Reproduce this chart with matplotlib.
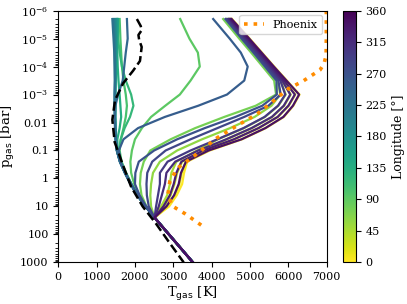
import numpy as np
import matplotlib
matplotlib.use('Agg')
import matplotlib.pyplot as plt
from matplotlib import colors

plt.rcParams['font.family'] = 'DejaVu Serif'

# pressure grid (log10 bar) shared by all model profiles
log_p = [-5.7, -5.0, -4.5, -4.0, -3.5, -3.0, -2.6, -2.2, -1.8, -1.4, -1.0,
         -0.6, -0.2, 0.2, 0.6, 1.0, 1.4, 1.8, 2.2, 2.6, 3.0]

# deep adiabat, identical for every longitude (log p = 1.4 ... 3.0)
deep = [2510, 2760, 3010, 3260, 3510]

longitudes = [0, 15, 30, 45, 60, 75, 90, 105, 120, 135, 150, 165, 180, 195,
              210, 225, 240, 255, 270, 285, 300, 315, 330, 345]

t_000 = [4530, 4990, 5310, 5630, 5960, 6290, 6130, 5880, 5410, 4790, 3950, 3360, 3280, 3230, 3090, 2890] + deep
t_015 = [4500, 4950, 5270, 5580, 5900, 6180, 6010, 5730, 5230, 4590, 3900, 3320, 3220, 3160, 3040, 2840] + deep
t_030 = [4470, 4910, 5230, 5540, 5850, 6060, 5890, 5580, 5050, 4390, 3800, 3230, 3100, 3030, 2930, 2760] + deep
t_045 = [4440, 4870, 5180, 5490, 5800, 5930, 5740, 5390, 4840, 4160, 3620, 3080, 2950, 2910, 2840, 2680] + deep
t_060 = [4380, 4800, 5110, 5410, 5720, 5790, 5560, 5120, 4480, 3750, 3100, 2650, 2470, 2420, 2400, 2420] + deep
t_075 = [4300, 4720, 5030, 5330, 5630, 5680, 5150, 4330, 3570, 2930, 2400, 2230, 2150, 2130, 2170, 2300] + deep
t_090 = [3180, 3420, 3640, 3690, 3450, 3170, 2790, 2420, 2180, 2000, 1920, 1880, 1900, 1980, 2110, 2290] + deep
t_105 = [1600, 1620, 1640, 1660, 1700, 1760, 1790, 1760, 1700, 1630, 1600, 1650, 1770, 1910, 2075, 2285] + deep
t_120 = [1550, 1560, 1600, 1660, 1760, 1900, 1960, 1870, 1730, 1630, 1580, 1640, 1760, 1905, 2072, 2282] + deep
t_135 = [1530, 1530, 1540, 1550, 1570, 1600, 1620, 1640, 1600, 1540, 1545, 1625, 1752, 1902, 2070, 2280] + deep
t_150 = [1560, 1540, 1520, 1510, 1500, 1490, 1490, 1490, 1495, 1510, 1540, 1620, 1750, 1900, 2070, 2280] + deep
t_165 = [1530, 1520, 1510, 1500, 1490, 1485, 1485, 1485, 1490, 1505, 1535, 1615, 1745, 1895, 2065, 2278] + deep
t_180 = [1500, 1500, 1495, 1490, 1485, 1480, 1480, 1480, 1485, 1500, 1530, 1610, 1740, 1890, 2062, 2276] + deep
t_195 = [1470, 1480, 1480, 1480, 1480, 1475, 1475, 1478, 1483, 1498, 1528, 1608, 1738, 1888, 2060, 2275] + deep
t_210 = [1440, 1460, 1470, 1475, 1478, 1472, 1472, 1476, 1482, 1497, 1527, 1607, 1737, 1887, 2060, 2275] + deep
t_225 = [1410, 1440, 1460, 1470, 1476, 1470, 1470, 1475, 1480, 1495, 1525, 1605, 1735, 1885, 2058, 2274] + deep
t_240 = [1790, 1810, 1760, 1720, 1680, 1560, 1490, 1475, 1482, 1500, 1530, 1610, 1740, 1890, 2062, 2276] + deep
t_255 = [4040, 4470, 4760, 4940, 4850, 4400, 3650, 2780, 2080, 1700, 1580, 1625, 1750, 1900, 2068, 2280] + deep
t_270 = [4360, 4780, 5090, 5390, 5690, 5700, 5320, 4620, 3820, 3100, 2500, 2100, 2010, 2000, 2120, 2290] + deep
t_285 = [4400, 4820, 5130, 5440, 5740, 5800, 5480, 4850, 4150, 3450, 2800, 2450, 2320, 2300, 2310, 2360] + deep
t_300 = [4430, 4860, 5170, 5480, 5790, 5920, 5730, 5380, 4830, 4150, 3450, 2850, 2650, 2650, 2600, 2550] + deep
t_315 = [4460, 4900, 5220, 5530, 5840, 6050, 5880, 5570, 5040, 4380, 3650, 3050, 2820, 2780, 2700, 2620] + deep
t_330 = [4490, 4940, 5260, 5570, 5890, 6170, 6000, 5720, 5220, 4580, 3780, 3210, 3080, 3010, 2910, 2740] + deep
t_345 = [4520, 4980, 5300, 5620, 5950, 6280, 6120, 5870, 5400, 4780, 3920, 3330, 3200, 3140, 3020, 2820] + deep

profiles = [t_000, t_015, t_030, t_045, t_060, t_075, t_090, t_105, t_120,
            t_135, t_150, t_165, t_180, t_195, t_210, t_225, t_240, t_255,
            t_270, t_285, t_300, t_315, t_330, t_345]

# black dashed reference profile
dash_logp = [-5.7, -5.45, -5.3, -5.13, -4.95, -4.7, -4.2, -3.85, -3.4, -2.8,
             -2.1, -1.3, -0.5, 0.3, 1.0, 1.6, 2.3, 3.0]
dash_t = [2050, 2150, 2175, 2090, 2110, 2175, 2130, 1950, 1690, 1480,
          1410, 1470, 1680, 1900, 2200, 2540, 2900, 3270]

# Phoenix profile
phx_logp = [-6.0, -5.0, -4.4, -4.1, -3.88, -3.48, -3.2, -2.76, -2.3, -1.95,
            -1.45, -0.88, -0.38, 0.08, 0.55, 0.98, 1.26, 1.69]
phx_t = [6990, 6990, 6985, 6930, 6826, 6382, 5990, 5600, 5183, 4740,
         4140, 3618, 3122, 2913, 2860, 2966, 3305, 3749]

fig = plt.figure(figsize=(4.07, 3.04), dpi=100)
ax = fig.add_axes([0.1432, 0.137, 0.6595, 0.828])
cax = fig.add_axes([0.8435, 0.137, 0.0305, 0.828])

cmap = plt.get_cmap('viridis_r')
norm = colors.Normalize(vmin=0, vmax=360)
pres = 10 ** np.array(log_p)

for lon, T in zip(longitudes, profiles):
    ax.plot(T, pres, color=cmap(norm(lon)), lw=1.6)

ax.plot(dash_t, 10 ** np.array(dash_logp), color='black', ls='--', lw=1.8)
ax.plot(phx_t, 10 ** np.array(phx_logp), color='darkorange', ls=':', lw=2.6,
        label='Phoenix')

ax.set_yscale('log')
ax.set_xlim(0, 7000)
ax.set_ylim(1000, 1e-6)
ax.set_xticks(range(0, 7001, 1000))
yt = [1e-6, 1e-5, 1e-4, 1e-3, 1e-2, 1e-1, 1, 10, 100, 1000]
ax.set_yticks(yt)
ax.set_yticklabels([r'$\mathdefault{10^{-6}}$', r'$\mathdefault{10^{-5}}$',
                    r'$\mathdefault{10^{-4}}$', r'$\mathdefault{10^{-3}}$',
                    '0.01', '0.1', '1', '10', '100', '1000'])
ax.tick_params(labelsize=8)
ax.set_xlabel(r'T$_\mathrm{gas}$ [K]', fontsize=9.5, labelpad=2)
ax.set_ylabel(r'p$_\mathrm{gas}$ [bar]', fontsize=9.5, labelpad=2)
ax.legend(loc='upper right', fontsize=8, borderaxespad=0.4, handlelength=1.8)

sm = plt.cm.ScalarMappable(norm=norm, cmap=cmap)
cb = fig.colorbar(sm, cax=cax, ticks=range(0, 361, 45))
cb.ax.tick_params(labelsize=8)
cb.set_label('Longitude [°]', fontsize=9)

fig.savefig('out.png', dpi=100)
